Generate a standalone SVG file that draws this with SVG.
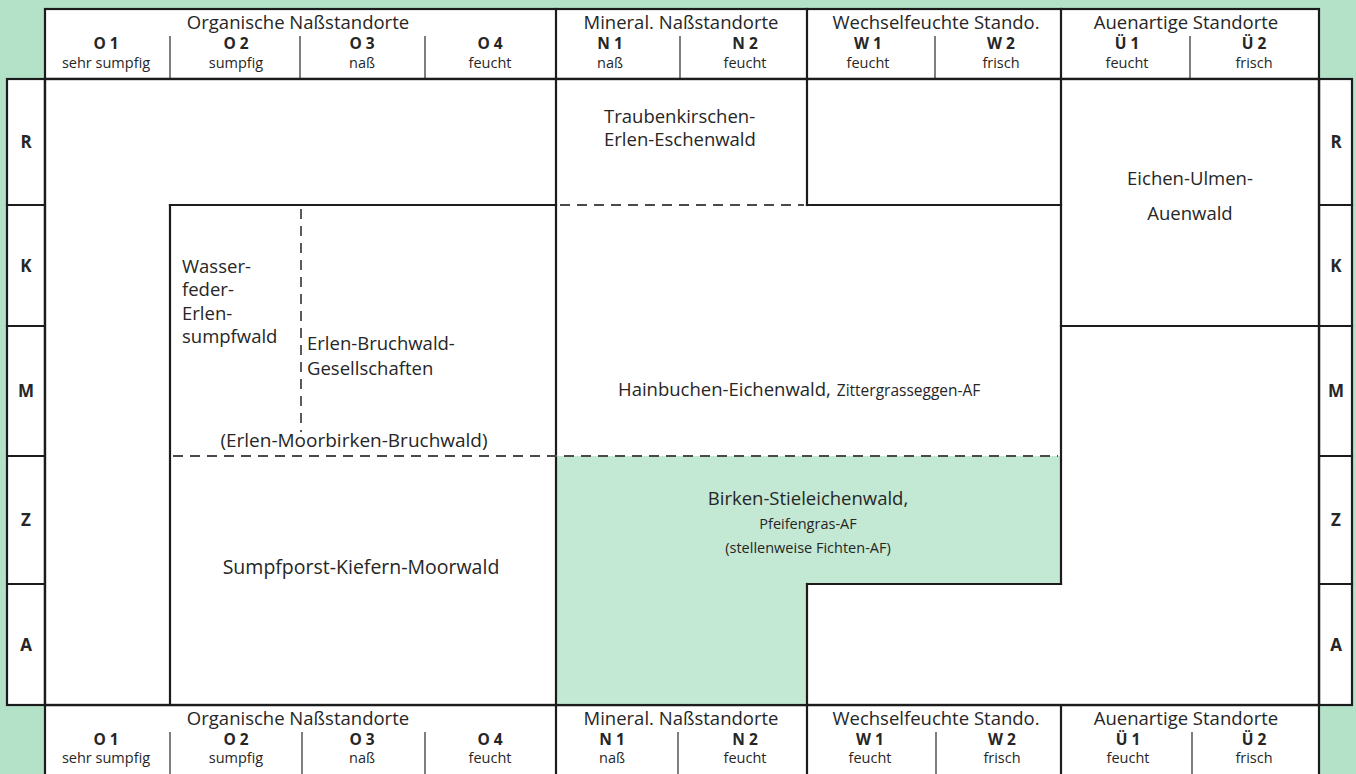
<svg xmlns="http://www.w3.org/2000/svg" width="1356" height="774" viewBox="0 0 1356 774">
  <style>
    .t{font-family:"Open Sans","Noto Sans",sans-serif;fill:#262626}
    .lab{font-size:18.5px}
    .small{font-size:14.5px}
    .code{font-size:15.5px;font-weight:700}
    .desc{font-size:14.5px}
    .row{font-size:17px;font-weight:700}
    .box{fill:#ffffff;stroke:#1c1c1c;stroke-width:2.2}
    .ln{stroke:#1c1c1c;stroke-width:2.2;fill:none;stroke-linecap:square}
    .thin{stroke:#3a3a3a;stroke-width:1.3;fill:none}
    .dash{stroke:#4a4a4a;stroke-width:1.8;stroke-dasharray:10 7;fill:none}
  </style>

  <!-- page background -->
  <rect width="1356" height="774" fill="#b4e2c9"/>

  <!-- column header, top -->
  <g id="header-top">
    <rect class="box" x="45" y="9" width="1274" height="70"/>
    <line class="ln" x1="556" y1="9" x2="556" y2="79"/>
    <line class="ln" x1="807" y1="9" x2="807" y2="79"/>
    <line class="ln" x1="1061" y1="9" x2="1061" y2="79"/>
    <line class="thin" x1="170" y1="36" x2="170" y2="79"/>
    <line class="thin" x1="300" y1="36" x2="300" y2="79"/>
    <line class="thin" x1="425" y1="36" x2="425" y2="79"/>
    <line class="thin" x1="680" y1="36" x2="680" y2="79"/>
    <line class="thin" x1="935" y1="36" x2="935" y2="79"/>
    <line class="thin" x1="1190" y1="36" x2="1190" y2="79"/>
    <g class="t lab" text-anchor="middle">
      <text x="298" y="29">Organische Naßstandorte</text>
      <text x="681" y="29">Mineral. Naßstandorte</text>
      <text x="936" y="29">Wechselfeuchte Stando.</text>
      <text x="1186" y="29">Auenartige Standorte</text>
    </g>
    <g class="t code" text-anchor="middle">
      <text x="106" y="49">O 1</text>
      <text x="236" y="49">O 2</text>
      <text x="362" y="49">O 3</text>
      <text x="490" y="49">O 4</text>
      <text x="610" y="49">N 1</text>
      <text x="745" y="49">N 2</text>
      <text x="868" y="49">W 1</text>
      <text x="1001" y="49">W 2</text>
      <text x="1127" y="49">Ü 1</text>
      <text x="1254" y="49">Ü 2</text>
    </g>
    <g class="t desc" text-anchor="middle">
      <text x="106" y="68">sehr sumpfig</text>
      <text x="236" y="68">sumpfig</text>
      <text x="362" y="68">naß</text>
      <text x="490" y="68">feucht</text>
      <text x="610" y="68">naß</text>
      <text x="745" y="68">feucht</text>
      <text x="868" y="68">feucht</text>
      <text x="1001" y="68">frisch</text>
      <text x="1127" y="68">feucht</text>
      <text x="1254" y="68">frisch</text>
    </g>
  </g>

  <!-- column header, bottom -->
  <g id="header-bottom">
    <rect class="box" x="45" y="705" width="1274" height="80"/>
    <line class="ln" x1="556" y1="705" x2="556" y2="774"/>
    <line class="ln" x1="807" y1="705" x2="807" y2="774"/>
    <line class="ln" x1="1061" y1="705" x2="1061" y2="774"/>
    <line class="thin" x1="170" y1="732" x2="170" y2="774"/>
    <line class="thin" x1="302" y1="732" x2="302" y2="774"/>
    <line class="thin" x1="425" y1="732" x2="425" y2="774"/>
    <line class="thin" x1="678" y1="732" x2="678" y2="774"/>
    <line class="thin" x1="936" y1="732" x2="936" y2="774"/>
    <line class="thin" x1="1192" y1="732" x2="1192" y2="774"/>
    <g class="t lab" text-anchor="middle">
      <text x="298" y="725">Organische Naßstandorte</text>
      <text x="681" y="725">Mineral. Naßstandorte</text>
      <text x="936" y="725">Wechselfeuchte Stando.</text>
      <text x="1186" y="725">Auenartige Standorte</text>
    </g>
    <g class="t code" text-anchor="middle">
      <text x="106" y="745">O 1</text>
      <text x="236" y="745">O 2</text>
      <text x="362" y="745">O 3</text>
      <text x="490" y="745">O 4</text>
      <text x="612" y="745">N 1</text>
      <text x="745" y="745">N 2</text>
      <text x="870" y="745">W 1</text>
      <text x="1002" y="745">W 2</text>
      <text x="1128" y="745">Ü 1</text>
      <text x="1254" y="745">Ü 2</text>
    </g>
    <g class="t desc" text-anchor="middle">
      <text x="106" y="763">sehr sumpfig</text>
      <text x="236" y="763">sumpfig</text>
      <text x="362" y="763">naß</text>
      <text x="490" y="763">feucht</text>
      <text x="612" y="763">naß</text>
      <text x="745" y="763">feucht</text>
      <text x="870" y="763">feucht</text>
      <text x="1002" y="763">frisch</text>
      <text x="1128" y="763">feucht</text>
      <text x="1254" y="763">frisch</text>
    </g>
  </g>

  <!-- row scale, left -->
  <g id="rows-left">
    <rect class="box" x="7" y="79" width="38" height="626"/>
    <line class="ln" x1="7" y1="205" x2="45" y2="205"/>
    <line class="ln" x1="7" y1="326" x2="45" y2="326"/>
    <line class="ln" x1="7" y1="456" x2="45" y2="456"/>
    <line class="ln" x1="7" y1="584" x2="45" y2="584"/>
    <g class="t row" text-anchor="middle">
      <text x="26" y="148">R</text>
      <text x="26" y="272">K</text>
      <text x="26" y="397">M</text>
      <text x="26" y="526">Z</text>
      <text x="26" y="651">A</text>
    </g>
  </g>

  <!-- row scale, right -->
  <g id="rows-right">
    <rect class="box" x="1319" y="79" width="33" height="626"/>
    <line class="ln" x1="1319" y1="205" x2="1352" y2="205"/>
    <line class="ln" x1="1319" y1="326" x2="1352" y2="326"/>
    <line class="ln" x1="1319" y1="456" x2="1352" y2="456"/>
    <line class="ln" x1="1319" y1="584" x2="1352" y2="584"/>
    <g class="t row" text-anchor="middle">
      <text x="1336" y="148">R</text>
      <text x="1336" y="272">K</text>
      <text x="1336" y="397">M</text>
      <text x="1336" y="526">Z</text>
      <text x="1336" y="651">A</text>
    </g>
  </g>

  <!-- main field -->
  <rect class="box" x="45" y="79" width="1274" height="626"/>

  <g id="birken-stieleichenwald">
    <polygon points="556,456 1061,456 1061,584 807,584 807,705 556,705" fill="#c3e8d3"/>
    <g class="t" text-anchor="middle">
      <text class="lab" x="808" y="505">Birken-Stieleichenwald,</text>
      <text class="small" x="808" y="529">Pfeifengras-AF</text>
      <text class="small" x="808" y="553">(stellenweise Fichten-AF)</text>
    </g>
  </g>

  <!-- boundaries between the forest communities -->
  <g id="connectors">
    <rect x="45" y="79" width="1274" height="626" class="ln"/>
    <line class="ln" x1="556" y1="79" x2="556" y2="705"/>
    <line class="ln" x1="807" y1="79" x2="807" y2="205"/>
    <line class="ln" x1="1061" y1="79" x2="1061" y2="584"/>
    <line class="ln" x1="170" y1="205" x2="556" y2="205"/>
    <line class="ln" x1="807" y1="205" x2="1061" y2="205"/>
    <line class="ln" x1="170" y1="205" x2="170" y2="705"/>
    <line class="ln" x1="1061" y1="326" x2="1319" y2="326"/>
    <line class="ln" x1="807" y1="584" x2="1061" y2="584"/>
    <line class="ln" x1="807" y1="584" x2="807" y2="705"/>
    <line class="dash" x1="560" y1="205" x2="804" y2="205"/>
    <line class="dash" x1="301" y1="209" x2="301" y2="432"/>
    <line class="dash" x1="173" y1="456" x2="1058" y2="456"/>
  </g>

  <g id="traubenkirschen-erlen-eschenwald" class="t lab">
    <text x="604" y="123">Traubenkirschen-</text>
    <text x="604" y="146">Erlen-Eschenwald</text>
  </g>

  <g id="eichen-ulmen-auenwald" class="t lab" text-anchor="middle">
    <text x="1190" y="185">Eichen-Ulmen-</text>
    <text x="1190" y="220">Auenwald</text>
  </g>

  <g id="wasserfeder-erlensumpfwald" class="t lab">
    <text x="182" y="273">Wasser-</text>
    <text x="182" y="296">feder-</text>
    <text x="182" y="320">Erlen-</text>
    <text x="182" y="343">sumpfwald</text>
  </g>

  <g id="erlen-bruchwald" class="t lab">
    <text x="307" y="350">Erlen-Bruchwald-</text>
    <text x="307" y="375">Gesellschaften</text>
    <text x="354" y="447" text-anchor="middle" font-size="19px">(Erlen-Moorbirken-Bruchwald)</text>
  </g>

  <g id="hainbuchen-eichenwald" class="t">
    <text x="618" y="396"><tspan class="lab">Hainbuchen-Eichenwald,</tspan><tspan dx="6" font-size="15.5px">Zittergrasseggen-AF</tspan></text>
  </g>

  <g id="sumpfporst-kiefern-moorwald" class="t">
    <text x="361" y="574" text-anchor="middle" font-size="19.5px">Sumpfporst-Kiefern-Moorwald</text>
  </g>
</svg>
